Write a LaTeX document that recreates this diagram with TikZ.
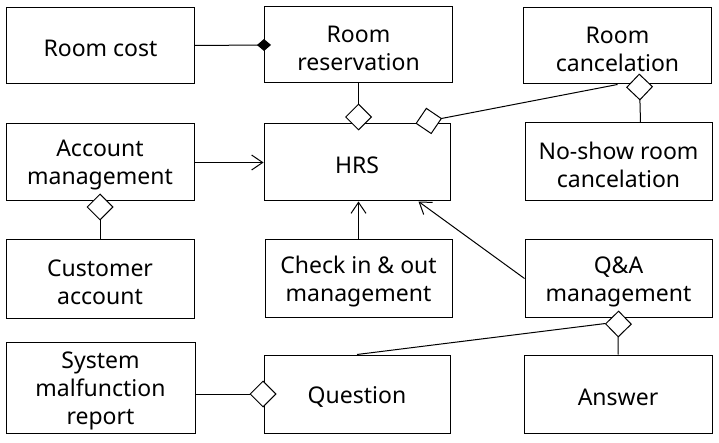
\documentclass[tikz,border=0pt]{standalone}
\usepackage{fontspec}
\setmainfont{Noto Sans}
\usetikzlibrary{arrows.meta}
\begin{document}
\begin{tikzpicture}[x=1pt,y=-1pt,line width=1pt,
  box/.style={draw,minimum width=#1,inner sep=0pt},
  box/.default=188pt,
  txt/.style={label={[align=center,font=\fontsize{23}{28}\selectfont,inner sep=0pt,yshift=-3pt]center:#1}},
  assoc/.style={-{Straight Barb[length=11pt,width=15pt,line width=1pt]}},
  agg/.style={-{Diamond[fill=white,length=27pt,width=27pt,line width=1pt]},shorten >=-7pt},
  comp/.style={-{Diamond[length=14pt,width=12pt]},shorten >=-7pt}]
\useasboundingbox (0,0) rectangle (719,443);
\node[box,minimum height=76pt,txt={Room cost}] (RC0) at (100.5,45.5) {};
\node[box,minimum height=76pt,txt={Room\\reservation}] (RR) at (358.5,45) {};
\node[box,minimum height=76pt,txt={Room\\cancelation}] (RC) at (617.5,46) {};
\node[box,minimum height=77pt,txt={Account\\management}] (AM) at (100,162.5) {};
\node[box,minimum height=77pt,minimum width=186pt,txt={HRS}] (HRS) at (357,162.5) {};
\node[box,minimum height=78pt,minimum width=187pt,txt={No-show room\\cancelation}] (NS) at (618.5,162) {};
\node[box,minimum height=78pt,txt={Customer\\account}] (CA) at (100,279) {};
\node[box,minimum height=77pt,minimum width=187pt,txt={Check in \& out\\management}] (CI) at (358.5,278.5) {};
\node[box,minimum height=77pt,minimum width=187pt,txt={Q\&A\\management}] (QA) at (618.5,278.5) {};
\node[box,minimum height=91pt,minimum width=189pt,txt={System\\malfunction\\report}] (SM) at (100.5,387.5) {};
\node[box,minimum height=78pt,minimum width=186pt,txt={Question}] (Q) at (357,394) {};
\node[box,minimum height=78pt,txt={Answer}] (A) at (618,394) {};
% connectors
\draw[comp] (RC0.east) -- (RR.west);
\draw[agg] (RR.south) -- (RR.south |- HRS.north);
\draw[agg,shorten >=0pt] (RC.south) -- ([xshift=-35pt]HRS.north east);
\draw[agg,shorten >=-11pt] ([xshift=22pt]NS.north) -- ([xshift=22pt]RC.south);
\draw[assoc] (AM.east) -- (HRS.west);
\draw[agg,shorten >=-8pt] (CA.north) -- (AM.south);
\draw[assoc] (CI.north) -- (CI.north |- HRS.south);
\draw[assoc] (QA.west) -- ([xshift=-32pt]HRS.south east);
\draw[agg] (A.north) -- (QA.south);
\draw (Q.north) -- ([xshift=-13pt,yshift=-6pt]QA.south);
\draw[agg,shorten >=-13pt] (SM.east |- Q.west) -- (Q.west);
\end{tikzpicture}
\end{document}
